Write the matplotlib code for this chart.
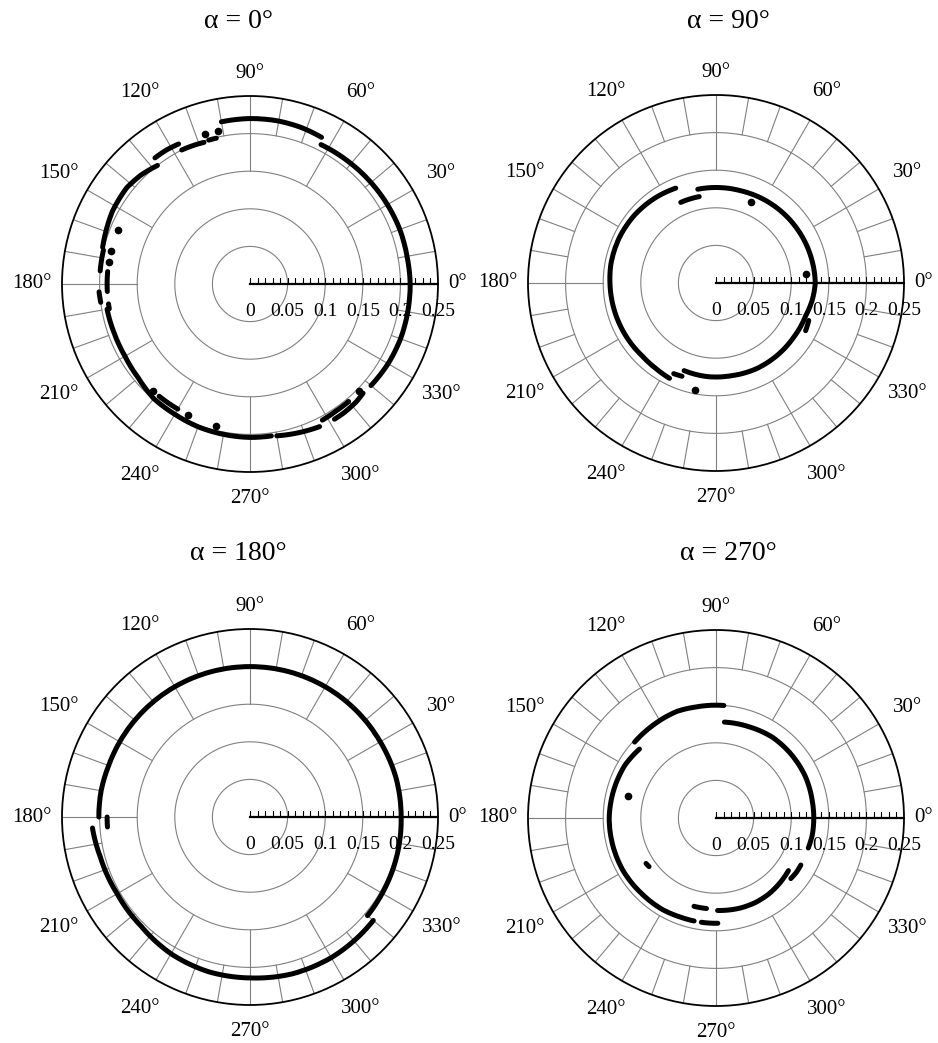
import numpy as np
import matplotlib
matplotlib.use("Agg")
from matplotlib import pyplot as plt

plt.rcParams['font.family'] = ['Liberation Serif', 'DejaVu Serif']

titulos = ['α = 0°', 'α = 90°', 'α = 180°', 'α = 270°']
etiquetas_radio = [0, 0.05, 0.1, 0.15, 0.2, 0.25]
textos_radio = ['0', '0.05', '0.1', '0.15', '0.2', '0.25']
anillos = [0.05, 0.1, 0.15, 0.2]
angulos_etiqueta = list(range(0, 360, 30))

# Cada arco: (theta en grados, radio)
# alpha = 0
arcos_0 = [
    ([64, 72, 80, 90, 100], [0.217, 0.219, 0.22, 0.22, 0.219]),
    ([63, 50, 40, 30, 20, 10, 0, -10, -20, -30, -40],
     [0.208, 0.209, 0.21, 0.211, 0.212, 0.212, 0.213, 0.213, 0.213, 0.212, 0.21]),
    ([-44, -48, -54, -58], [0.209, 0.211, 0.212, 0.212]),
    ([-50, -56, -62], [0.204, 0.204, 0.205]),
    ([-64, -72, -80], [0.211, 0.208, 0.205]),
    ([278, 270, 260, 250, 240, 230, 220, 210, 200, 190],
     [0.204, 0.204, 0.203, 0.202, 0.2, 0.199, 0.194, 0.192, 0.192, 0.193]),
    ([231, 236, 240], [0.192, 0.192, 0.192]),
    ([128, 135, 142, 152, 160, 166], [0.2, 0.205, 0.208, 0.207, 0.204, 0.202]),
    ([167, 171, 175], [0.2, 0.2, 0.2]),
    ([175, 179, 183], [0.19, 0.19, 0.19]),
    ([183, 187], [0.201, 0.2]),
    ([188, 190], [0.19, 0.19]),
    ([127, 122, 117], [0.21, 0.21, 0.209]),
    ([117, 112, 108], [0.2, 0.199, 0.198]),
    ([106, 103], [0.199, 0.199]),
]
puntos_0_theta = [-44.4, 227.6, 244.7, 256.7, 157.7, 166.8, 171, 106.8, 101.7]
puntos_0_r = [0.203, 0.192, 0.193, 0.194, 0.19, 0.19, 0.19, 0.208, 0.208]

# alpha = 90
arcos_90 = [
    ([101, 90, 75, 60, 45, 30, 15, 0, -10, -20, -35, -50, -65, -80, -95, -110],
     [0.127, 0.127, 0.127, 0.128, 0.129, 0.13, 0.131, 0.132, 0.13, 0.127, 0.126,
      0.126, 0.126, 0.125, 0.125, 0.124]),
    ([-22, -28], [0.133, 0.135]),
    ([113, 125, 140, 155, 170, 180, 195, 210, 225, 235, 244],
     [0.137, 0.139, 0.141, 0.142, 0.142, 0.141, 0.14, 0.139, 0.138, 0.139, 0.141]),
    ([101, 107, 113.6], [0.117, 0.117, 0.117]),
    ([245, 250], [0.133, 0.132]),
]
puntos_90_theta = [66.8, 6, 259]
puntos_90_r = [0.117, 0.12, 0.145]

# alpha = 180
arcos_180 = [
    ([180, 170, 160, 150, 135, 120, 105, 90, 75, 60, 45, 30, 15, 0, -15, -30, -40],
     [0.201, 0.201, 0.2, 0.2, 0.2, 0.2, 0.2, 0.2, 0.2, 0.2, 0.2, 0.2, 0.201,
      0.201, 0.202, 0.203, 0.204]),
    ([180, 184], [0.19, 0.19]),
    ([184, 195, 210, 225, 240, 255, 270, 285, 300, 310, 320],
     [0.21, 0.206, 0.204, 0.205, 0.21, 0.213, 0.214, 0.216, 0.216, 0.215, 0.214]),
]
puntos_180_theta = []
puntos_180_r = []

# alpha = 270
arcos_270 = [
    ([137, 125, 110, 100, 90, 86], [0.148, 0.149, 0.151, 0.15, 0.15, 0.15]),
    ([85, 70, 55, 40, 25, 10, 0, -10, -18],
     [0.128, 0.129, 0.131, 0.131, 0.131, 0.13, 0.13, 0.13, 0.129]),
    ([-29, -34, -39], [0.129, 0.129, 0.128]),
    ([-36, -45, -55, -65, -75, -89], [0.119, 0.121, 0.123, 0.124, 0.124, 0.123]),
    ([256, 264], [0.121, 0.121]),
    ([262, 271], [0.14, 0.14]),
    ([138, 150, 165, 180, 195, 210, 225, 240, 250, 258],
     [0.137, 0.14, 0.141, 0.142, 0.142, 0.142, 0.141, 0.141, 0.14, 0.14]),
    ([213, 216], [0.111, 0.11]),
]
puntos_270_theta = [165.9]
puntos_270_r = [0.12]

datos = [
    (arcos_0, puntos_0_theta, puntos_0_r),
    (arcos_90, puntos_90_theta, puntos_90_r),
    (arcos_180, puntos_180_theta, puntos_180_r),
    (arcos_270, puntos_270_theta, puntos_270_r),
]

W, H = 938, 1043
R = 188
centros = [(250, 284), (716, 283), (250, 817), (716, 818)]
centros_titulo = [(238, 21), (728, 21), (238, 553), (728, 553)]
gris = '#808080'
# distancia de las etiquetas angulares (en radios del circulo)
factor_etiqueta = {0: 1.105, 90: 1.12, 180: 1.16, 270: 1.14}


def dibujar_panel(ax, arcos, pt, pr):
    ax.set_ylim(0, 0.25)
    ax.set_xticks([])
    ax.set_yticks([])
    ax.grid(False)
    ax.spines['polar'].set_linewidth(1.3)
    ax.spines['polar'].set_color('black')

    # anillos y radios de la grilla
    th = np.linspace(0, 2 * np.pi, 721)
    for r in anillos:
        ax.plot(th, np.full_like(th, r), color=gris, lw=0.8, zorder=1)
    for ang in range(0, 360, 10):
        r0 = 0.15 if ang % 30 == 0 else 0.2
        ax.plot([np.deg2rad(ang)] * 2, [r0, 0.25], color=gris, lw=0.8, zorder=1)

    # eje radial
    ax.plot([0, 0], [0, 0.25], color='k', lw=1.6, zorder=2)
    marcas = np.arange(0, 26) / 100
    ax.plot(np.zeros_like(marcas), marcas, ls='none', marker=2, ms=4,
            mew=0.8, color='k', zorder=2)
    for v, t in zip(etiquetas_radio, textos_radio):
        ax.annotate(t, xy=(0, v), xytext=(0, -19.5), textcoords='offset points',
                    ha='center', va='center', fontsize=14, zorder=3)

    for ang in angulos_etiqueta:
        f = factor_etiqueta.get(ang, 1.175)
        ax.text(np.deg2rad(ang), 0.25 * f, f'{ang}°', ha='center',
                va='center', fontsize=15)

    # datos (los segmentos siguen el arco en coordenadas polares)
    for t, r in arcos:
        ln, = ax.plot(np.deg2rad(t), r, color='k', lw=3.6,
                      solid_capstyle='round', zorder=5)
        ln.get_path()._interpolation_steps = 40
    if pt:
        ax.plot(np.deg2rad(pt), pr, 'o', ms=4.5, color='k', ls='none', zorder=5)


fig = plt.figure(figsize=(W / 100, H / 100), dpi=100)
for (cx, cy), (tx, ty), titulo, (arcos, pt, pr) in zip(centros, centros_titulo, titulos, datos):
    ax = fig.add_axes([(cx - R) / W, 1 - (cy + R) / H, 2 * R / W, 2 * R / H],
                      projection='polar')
    dibujar_panel(ax, arcos, pt, pr)
    fig.text(tx / W, 1 - ty / H, titulo, ha='center', va='center', fontsize=20)

fig.savefig('out.png', dpi=100)
